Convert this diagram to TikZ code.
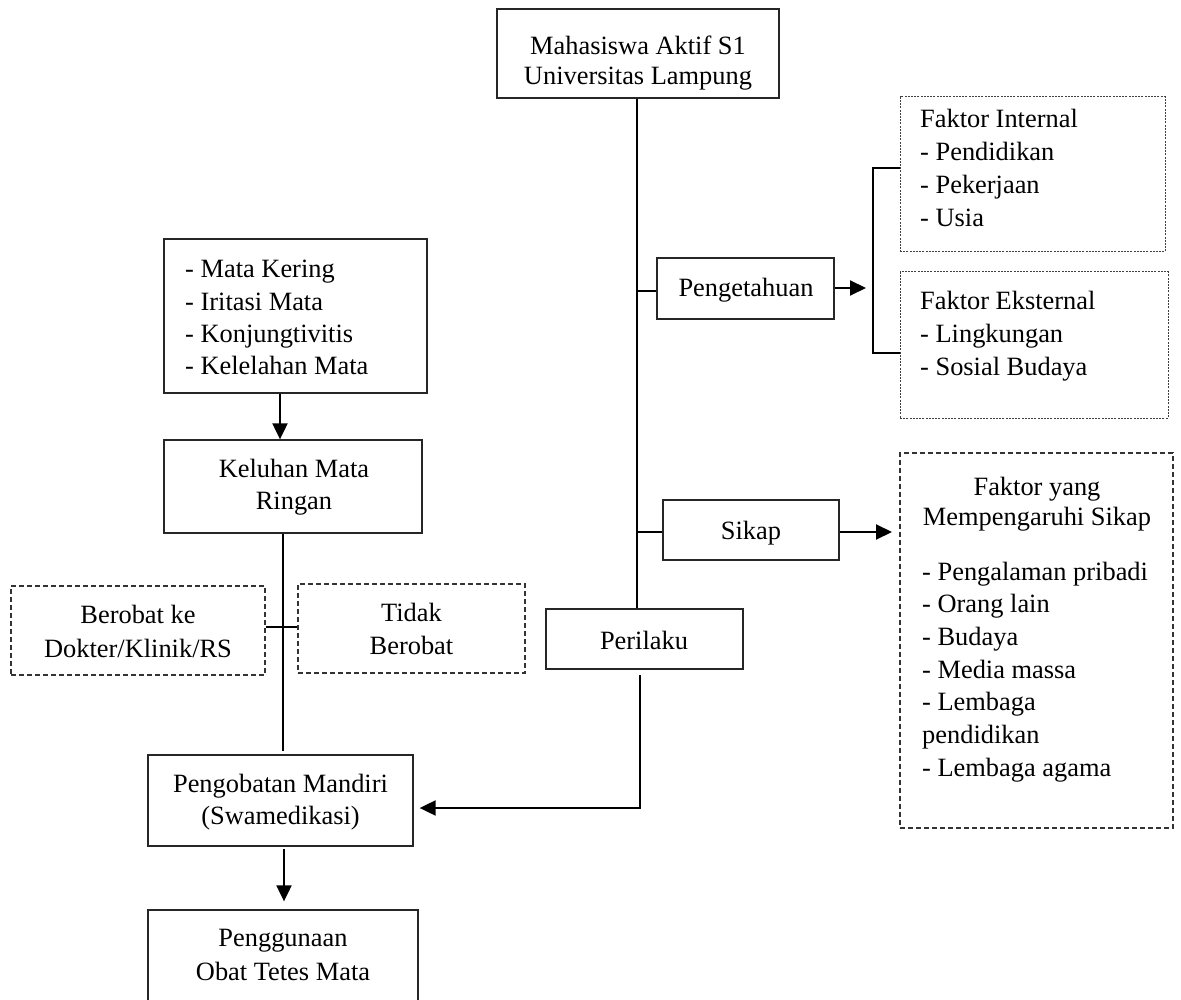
\documentclass[tikz,border=0pt]{standalone}
\usepackage{fontspec}
\setmainfont{Liberation Serif}
\usetikzlibrary{arrows.meta}
\newcommand\tlines[3]{\fontsize{26.4}{#1}\selectfont\begin{tabular}[t]{@{}#2@{}}#3\end{tabular}}
\begin{document}
\begin{tikzpicture}[x=1pt,y=-1pt,
  box/.style={draw=black!85,line width=1.3pt,inner sep=0pt},
  dbox/.style={draw=black!80,line width=1.2pt,dash pattern=on 5pt off 3pt,inner sep=0pt},
  dotbox/.style={draw=black!75,line width=1pt,dash pattern=on 2pt off 1.2pt,inner sep=0pt},
  txt/.style={inner sep=0pt,anchor=base},
  ltxt/.style={inner sep=0pt,anchor=base west},
  conn/.style={line width=2pt,black},
  arr/.style={conn,-{Triangle[length=16pt,width=15pt]}}]
\useasboundingbox (0,0) rectangle (1181,1000);
% top box
\node[box,minimum width=282pt,minimum height=89pt] (mhs) at (638,53.5) {};
\node[txt] (mhsT) at (638,55) {\tlines{30pt}{c}{Mahasiswa Aktif S1\\Universitas Lampung}};
% Pengetahuan
\node[box,minimum width=177pt,minimum height=61pt] (peng) at (745.5,288.5) {};
\node[txt] (pengT) at (746,297) {\tlines{33pt}{c}{Pengetahuan}};
% internal / external
\node[dotbox,minimum width=265pt,minimum height=155pt] (int) at (1032.5,174.5) {};
\node[ltxt] (intT) at (920,128) {\tlines{32.7pt}{l}{Faktor Internal\\- Pendidikan\\- Pekerjaan\\- Usia}};
\node[dotbox,minimum width=268pt,minimum height=146pt] (ext) at (1034,345) {};
\node[ltxt] (extT) at (920,310) {\tlines{33pt}{l}{Faktor Eksternal\\- Lingkungan\\- Sosial Budaya}};
% Sikap
\node[box,minimum width=176pt,minimum height=60pt] (sikap) at (751,530) {};
\node[txt] (sikapT) at (751,539) {\tlines{33pt}{c}{Sikap}};
% Faktor yang mempengaruhi sikap
\node[dbox,minimum width=273pt,minimum height=375pt] (fys) at (1036.5,640.5) {};
\node[txt] (fysT) at (1037,495) {\tlines{30pt}{c}{Faktor yang\\Mempengaruhi Sikap}};
\node[ltxt] (fysL) at (922,580) {\tlines{32.7pt}{l}{- Pengalaman pribadi\\- Orang lain\\- Budaya\\- Media massa\\- Lembaga\\pendidikan\\- Lembaga agama}};
% Perilaku
\node[box,minimum width=197pt,minimum height=60pt] (peri) at (644.5,639) {};
\node[txt] (periT) at (644,649) {\tlines{33pt}{c}{Perilaku}};
% symptoms
\node[box,minimum width=263pt,minimum height=154pt] (sym) at (295.5,316) {};
\node[ltxt] (symT) at (185,278) {\tlines{32.3pt}{l}{- Mata Kering\\- Iritasi Mata\\- Konjungtivitis\\- Kelelahan Mata}};
% Keluhan
\node[box,minimum width=258pt,minimum height=93pt] (kel) at (293,486.5) {};
\node[txt] (kelT) at (294,477) {\tlines{32pt}{c}{Keluhan Mata\\Ringan}};
% Berobat / Tidak
\node[dbox,minimum width=254pt,minimum height=89pt] (bero) at (138,630.5) {};
\node[txt] (beroT) at (138,623) {\tlines{34pt}{c}{Berobat ke\\Dokter/Klinik/RS}};
\node[dbox,minimum width=227pt,minimum height=89pt] (tidak) at (411.5,628.5) {};
\node[txt] (tidakT) at (411.5,621) {\tlines{33pt}{c}{Tidak\\Berobat}};
% Pengobatan mandiri
\node[box,minimum width=265pt,minimum height=91pt] (obat) at (280.5,800.5) {};
\node[txt] (obatT) at (280.5,792) {\tlines{32.5pt}{c}{Pengobatan Mandiri\\(Swamedikasi)}};
% Penggunaan
\node[box,minimum width=270pt,minimum height=92pt] (guna) at (283,956) {};
\node[txt] (gunaT) at (283,946) {\tlines{34pt}{c}{Penggunaan\\Obat Tetes Mata}};
% coordinates
\coordinate (pengTip) at (866,288);
\coordinate (sikTip) at (892,532);
\coordinate (bTop) at (873,168);
\coordinate (bBot) at (873,353);
\coordinate (pr1) at (640,675);
\coordinate (pr2) at (640,808);
% connectors
\draw[conn] (mhs.south -| 637,0) -- (peri.north -| 637,0);
\draw[conn] (637,291) -- (peng.west |- 0,291);
\draw[arr] (peng.east |- pengTip) -- (pengTip);
\draw[conn] (int.west |- bTop) -- (bTop) -- (bBot) -- (ext.west |- bBot);
\draw[conn] (637,532) -- (sikap.west |- 0,532);
\draw[arr] (sikap.east |- sikTip) -- (sikTip);
\draw[arr] (pr1) -- (pr2) -- ([xshift=6pt]obat.east |- pr2);
\draw[arr] (sym.south -| 280,0) -- (kel.north -| 280,0);
\draw[conn] (kel.south -| 283,0) -- ([yshift=3pt]obat.north -| 283,0);
\draw[conn] (bero.east |- 0,627) -- (tidak.west |- 0,627);
\draw[arr] ([yshift=-2pt]obat.south -| 284,0) -- ([yshift=8pt]guna.north -| 284,0);
\end{tikzpicture}
\end{document}
